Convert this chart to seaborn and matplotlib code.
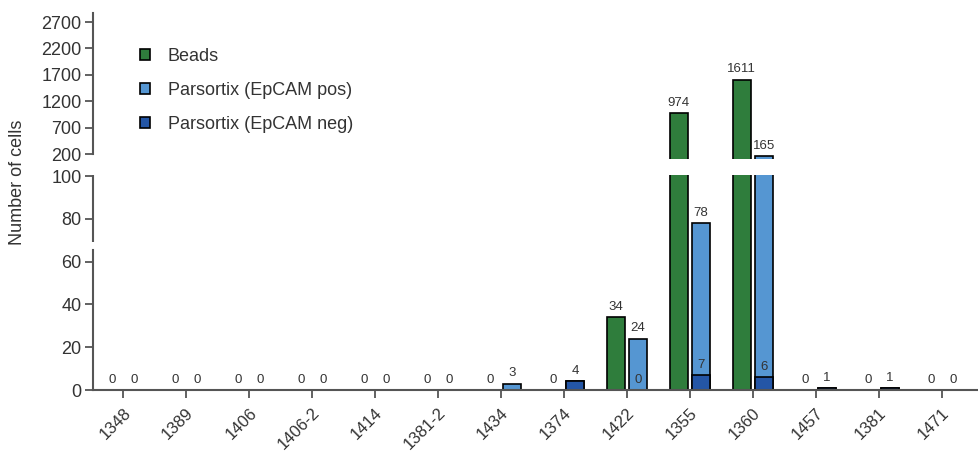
import numpy as np
import pandas as pd
import matplotlib
matplotlib.use("Agg")
import matplotlib.pyplot as plt
from matplotlib.patches import Patch
import seaborn as sns

samples = ["1348", "1389", "1406", "1406-2", "1414", "1381-2", "1434",
           "1374", "1422", "1355", "1360", "1457", "1381", "1471"]
beads = [0, 0, 0, 0, 0, 0, 0, 0, 34, 974, 1611, 0, 0, 0]
parsortix_total = [0, 0, 0, 0, 0, 0, 3, 4, 24, 78, 165, 1, 1, 0]
epcam_neg = [0, 0, 0, 0, 0, 0, 0, 4, 0, 7, 6, 1, 1, 0]
neg_labels = ["", "", "", "", "", "", "", "", "0", "7", "6", "", "", ""]

green = "#2f7d3c"
light_blue = "#5596d2"
dark_blue = "#2456a6"
ink = "#333333"
spine_col = "#555555"

df = pd.DataFrame({
    "sample": samples * 2,
    "method": ["Beads"] * len(samples) + ["Parsortix"] * len(samples),
    "count": beads + parsortix_total,
})
# Beads rows kept at 0 so the overlay is dodged onto the Parsortix position
df_neg = pd.DataFrame({
    "sample": samples * 2,
    "method": ["Beads"] * len(samples) + ["Parsortix"] * len(samples),
    "count": [0] * len(samples) + epcam_neg,
})

sns.set_style("ticks")
plt.rcParams["font.family"] = ["Liberation Sans", "DejaVu Sans"]

fig = plt.figure(figsize=(9.79, 4.57), dpi=100)
ax_top = fig.add_axes([0.0947, 0.652, 0.9053, 0.3195])
ax_bot = fig.add_axes([0.0947, 0.1466, 0.9053, 0.4705], sharex=ax_top)

bar_kw = dict(x="sample", y="count", hue="method", hue_order=["Beads", "Parsortix"],
              order=samples, width=0.7, gap=0.18, edgecolor="black", linewidth=1.2,
              errorbar=None, legend=False, saturation=1)

for ax in (ax_top, ax_bot):
    sns.barplot(data=df, palette={"Beads": green, "Parsortix": light_blue}, ax=ax, **bar_kw)
sns.barplot(data=df_neg, palette={"Beads": green, "Parsortix": dark_blue}, ax=ax_bot, **bar_kw)
neg_bars = list(ax_bot.containers[-1])

# limits
ax_bot.set_ylim(0, 100.5)
ax_top.set_ylim(105, 2870)
ax_bot.set_xlim(-0.48, 13.59)

lab_kw = dict(padding=3, fontsize=9.5, color=ink)
# bottom segment labels
for cont, vals in zip(ax_bot.containers[:2], [beads, parsortix_total]):
    ax_bot.bar_label(cont, labels=[str(v) if v <= 100 else "" for v in vals], **lab_kw)
for bar, lab in zip(neg_bars, neg_labels):
    if lab and bar is not None:
        ax_bot.annotate(lab, (bar.get_x() + bar.get_width() / 2, bar.get_height()),
                        xytext=(0, 3), textcoords="offset points", ha="center",
                        va="bottom", fontsize=9.5, color=ink)
# top segment labels
for cont, vals in zip(ax_top.containers[:2], [beads, parsortix_total]):
    ax_top.bar_label(cont, labels=[str(v) if v > 100 else "" for v in vals], **lab_kw)

# styling
for ax in (ax_top, ax_bot):
    for s in ("top", "right"):
        ax.spines[s].set_visible(False)
    ax.spines["left"].set_color(spine_col)
    ax.spines["left"].set_linewidth(1.5)
    ax.tick_params(axis="y", length=6, width=1.3, color=spine_col, labelsize=13,
                   labelcolor=ink, pad=2)
    ax.set_xlabel("")
    ax.set_ylabel("")

ax_top.spines["bottom"].set_visible(False)
ax_top.tick_params(axis="x", bottom=False, labelbottom=False)
ax_top.set_yticks([200, 700, 1200, 1700, 2200, 2700])
ax_top.spines["left"].set_bounds(200, 2870)

ax_bot.set_yticks([0, 20, 40, 60, 80, 100])
ax_bot.spines["left"].set_bounds(0, 65.6)
ax_bot.plot([0, 0], [69.3, 100.5], transform=ax_bot.get_yaxis_transform(),
            color=spine_col, lw=1.5, clip_on=False, solid_capstyle="butt")
ax_bot.spines["bottom"].set_color(spine_col)
ax_bot.spines["bottom"].set_linewidth(1.5)
ax_bot.tick_params(axis="x", length=6, width=1.3, color=spine_col, labelsize=12,
                   labelcolor=ink, pad=5)
plt.setp(ax_bot.get_xticklabels(), rotation=45, ha="right", rotation_mode="anchor")

fig.text(0.018, 0.6, "Number of cells", rotation=90, ha="center", va="center",
         fontsize=13, color=ink)

handles = [Patch(facecolor=green, edgecolor="black", linewidth=1.2, label="Beads"),
           Patch(facecolor=light_blue, edgecolor="black", linewidth=1.2,
                 label="Parsortix (EpCAM pos)"),
           Patch(facecolor=dark_blue, edgecolor="black", linewidth=1.2,
                 label="Parsortix (EpCAM neg)")]
fig.legend(handles=handles, loc="upper left", bbox_to_anchor=(0.143, 0.895),
           frameon=False, fontsize=13, handlelength=0.55, handleheight=0.55,
           handletextpad=1.0, labelspacing=0.95, borderpad=0, borderaxespad=0,
           labelcolor=ink)

fig.savefig("out.png", dpi=100)
